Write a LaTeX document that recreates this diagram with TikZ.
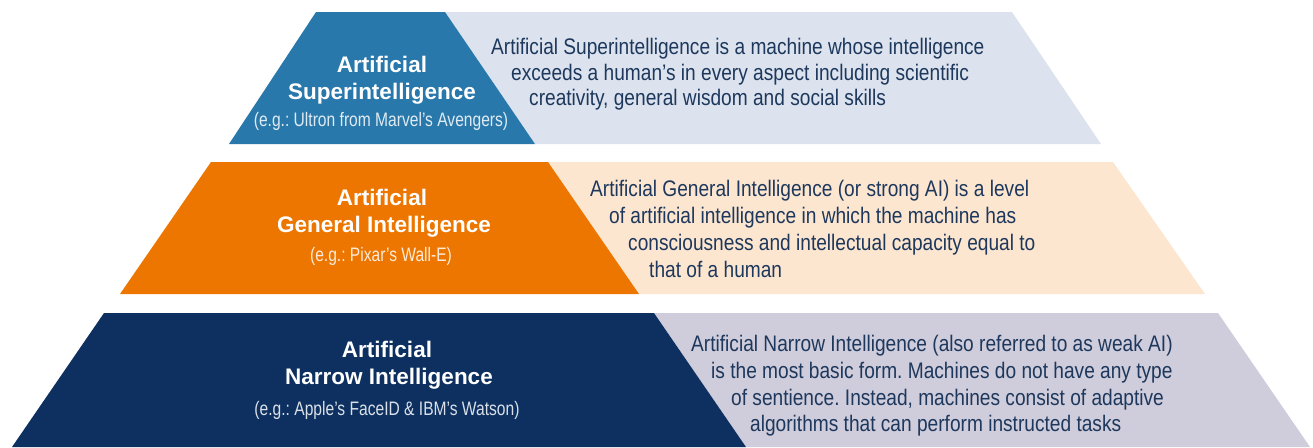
\documentclass[tikz,border=0pt]{standalone}
\usepackage{fontspec}
\setmainfont{Liberation Sans}
\newfontfamily\condfont[FakeStretch=0.85]{Liberation Sans}
\newfontfamily\exfont[FakeStretch=0.8]{Liberation Sans}
\definecolor{topdark}{RGB}{41,120,171}
\definecolor{toplight}{RGB}{220,227,238}
\definecolor{middark}{RGB}{236,118,0}
\definecolor{midlight}{RGB}{253,230,208}
\definecolor{botdark}{RGB}{13,48,96}
\definecolor{botlight}{RGB}{207,204,219}
\definecolor{desctext}{RGB}{29,56,92}
\tikzset{
  title/.style={anchor=base, inner sep=0pt, text=white, font=\bfseries\fontsize{22.5}{27}\selectfont},
  example/.style={anchor=base, inner sep=0pt, text=white, text opacity=0.85, font=\exfont\fontsize{19.5}{23}\selectfont},
  desc/.style={anchor=base west, inner sep=0pt, text=desctext, font=\condfont\fontsize{22.5}{27}\selectfont},
}
\begin{document}
\frenchspacing
\begin{tikzpicture}[x=1pt,y=-1pt]
\useasboundingbox (0,0) rectangle (1313,447);
% top band
\fill[toplight] (445,12) -- (1012,12) -- (1101,144) -- (535,144) -- cycle;
\fill[topdark] (316,12) -- (445,12) -- (535,144) -- (229,144) -- cycle;
% middle band
\fill[midlight] (548,162) -- (1113,162) -- (1205,294) -- (639,294) -- cycle;
\fill[middark] (211,162) -- (548,162) -- (639,294) -- (120,294) -- cycle;
% bottom band
\fill[botlight] (654,313) -- (1218,313) -- (1310,447) -- (746,447) -- cycle;
\fill[botdark] (104,313) -- (654,313) -- (746,447) -- (12,447) -- cycle;
% titles
\node[title] (t1a) at (382,72) {Artificial};
\node[title] (t1b) at (382,99) {Superintelligence};
\node[example] (t1c) at (381,126) {(e.g.: Ultron from Marvel’s Avengers)};
\node[title] (t2a) at (382,205) {Artificial};
\node[title] (t2b) at (384,232) {General Intelligence};
\node[example] (t2c) at (381,261) {(e.g.: Pixar’s Wall-E)};
\node[title] (t3a) at (387,357) {Artificial};
\node[title] (t3b) at (389,384) {Narrow Intelligence};
\node[example] (t3c) at (387,415) {(e.g.: Apple’s FaceID \& IBM’s Watson)};
% descriptions
\node[desc] (d1a) at (491,54) {Artificial Superintelligence is a machine whose intelligence};
\node[desc] (d1b) at (511,80) {exceeds a human’s in every aspect including scientific};
\node[desc] (d1c) at (529,105) {creativity, general wisdom and social skills};
\node[desc] (d2a) at (590,196) {Artificial General Intelligence (or strong AI) is a level};
\node[desc] (d2b) at (609,223) {of artificial intelligence in which the machine has};
\node[desc] (d2c) at (628,250) {consciousness and intellectual capacity equal to};
\node[desc] (d2d) at (649,277) {that of a human};
\node[desc] (d3a) at (691,351) {Artificial Narrow Intelligence (also referred to as weak AI)};
\node[desc] (d3b) at (711,378) {is the most basic form. Machines do not have any type};
\node[desc] (d3c) at (731,405) {of sentience. Instead, machines consist of adaptive};
\node[desc] (d3d) at (750,431) {algorithms that can perform instructed tasks};
\end{tikzpicture}
\end{document}
